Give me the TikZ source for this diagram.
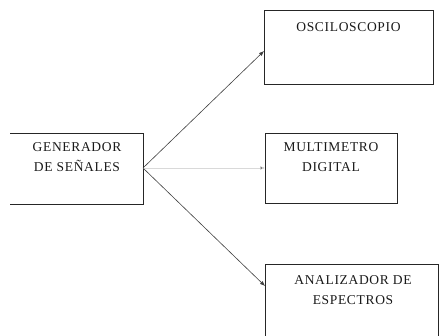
\documentclass[tikz,border=0pt]{standalone}
\usepackage{fontspec}
\setmainfont{Liberation Serif}[LetterSpace=5]
\usetikzlibrary{arrows.meta}
\begin{document}
\begin{tikzpicture}[x=1pt,y=-1pt,
  box/.style={draw=black!85,line width=0.9pt},
  lbl/.style={align=center,font=\fontsize{13.5}{20}\selectfont,text=black!90,inner sep=0pt},
  conn/.style={draw=black!75,line width=0.6pt,-{Latex[length=5pt,width=4pt]}},
  lconn/.style={draw=black!15,line width=0.6pt,-{Latex[length=5pt,width=4pt,fill=black!85]}}]
\useasboundingbox (0,0) rectangle (440,336);
% generator box (left side cut off)
\draw[box] (10,133) -- (143,133) -- (143,204) -- (10,204);
\coordinate (gen) at (143,168);
\node[lbl] (gent) at (77,157) {GENERADOR\\DE SEÑALES};
% oscilloscope
\draw[box] (264,10) rectangle (433,84);
\coordinate (osc) at (264,51);
\node[lbl] (osct) at (348.5,27) {OSCILOSCOPIO};
% multimeter
\draw[box] (265,133) rectangle (397,203);
\coordinate (mul) at (265,168);
\node[lbl] (mult) at (331,157) {MULTIMETRO\\DIGITAL};
% analyzer
\draw[box] (265,337) -- (265,264) -- (438,264) -- (438,337);
\coordinate (ana) at (265,286);
\node[lbl] (anat) at (353,290) {ANALIZADOR DE\\ESPECTROS};
% connectors
\draw[conn] (gen) -- (osc);
\draw[lconn] (gen) -- (mul);
\draw[conn] (gen) -- (ana);
\end{tikzpicture}
\end{document}
